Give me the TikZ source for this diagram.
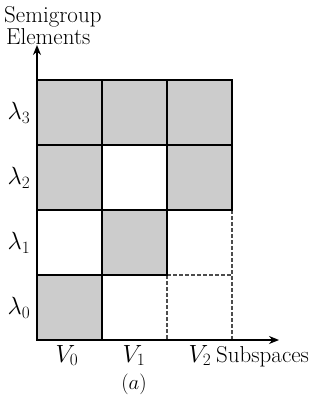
\documentclass[tikz,border=0pt]{standalone}
\usetikzlibrary{arrows.meta}
\begin{document}
\begin{tikzpicture}[x=1pt,y=-1pt,
  cell/.style={fill=black!20,draw=none},
  grid/.style={line width=1.8pt,line cap=rect},
  dgrid/.style={black!70,line width=1.2pt,dash pattern=on 3.5pt off 2.5pt},
  axis/.style={line width=1.4pt,-{Stealth[length=10pt,width=8pt]}},
  lbl/.style={font=\fontsize{23}{26}\selectfont,inner sep=0pt}]
\useasboundingbox (0,0) rectangle (321,396);
% filled cells
\fill[cell] (37,80) rectangle (102,145);
\fill[cell] (102,80) rectangle (167,145);
\fill[cell] (167,80) rectangle (232,145);
\fill[cell] (37,145) rectangle (102,210);
\fill[cell] (167,145) rectangle (232,210);
\fill[cell] (102,210) rectangle (167,275);
\fill[cell] (37,275) rectangle (102,340);
% dashed lines
\draw[dgrid] (232,210) -- (232,340);
\draw[dgrid] (167,275) -- (232,275);
\draw[dgrid] (167,275) -- (167,340);
% solid lines
\draw[grid] (37,80) -- (232,80);
\draw[grid] (37,145) -- (232,145);
\draw[grid] (37,210) -- (232,210);
\draw[grid] (37,275) -- (167,275);
\draw[grid] (102,80) -- (102,340);
\draw[grid] (167,80) -- (167,275);
\draw[grid] (232,80) -- (232,210);
% axes
\coordinate (O) at (37,340);
\coordinate (Y) at (37,45);
\coordinate (X) at (279,340);
\draw[axis] (O) -- (Y);
\draw[axis] (O) -- (X);
\draw[grid] (37,80) -- (O) -- (167,340);
% labels
\node[lbl,anchor=base west] (sg) at (4,23) {Semigroup};
\node[lbl,anchor=base west] (el) at (6,45) {Elements};
\node[lbl] (l3) at (19,113) {$\lambda_3$};
\node[lbl] (l2) at (19,178) {$\lambda_2$};
\node[lbl] (l1) at (19,243) {$\lambda_1$};
\node[lbl] (l0) at (19,308) {$\lambda_0$};
\node[lbl,anchor=base] (v0) at (67,362) {$V_0$};
\node[lbl,anchor=base] (v1) at (134,362) {$V_1$};
\node[lbl,anchor=base] (v2) at (200,362) {$V_2$};
\node[lbl,anchor=base west] (ss) at (216,362) {Subspaces};
\node[lbl,anchor=base,font=\fontsize{22}{25}\selectfont] (a) at (134,389) {$(a)$};
\end{tikzpicture}
\end{document}
